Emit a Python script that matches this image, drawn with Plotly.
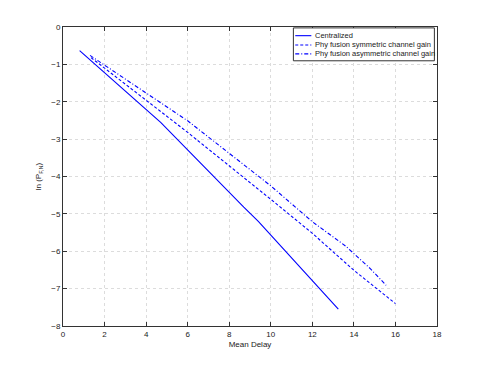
import plotly.graph_objects as go

# Mean delay vs ln(P_F,N)
central_x = [0.8, 4.7, 8.7, 9.4, 13.25]
central_y = [-0.63, -2.55, -4.82, -5.2, -7.55]

sym_x = [1.35, 6.0, 10.0, 12.0, 14.0, 16.0]
sym_y = [-0.82, -2.82, -4.61, -5.52, -6.51, -7.40]

asym_x = [1.3, 6.0, 10.0, 12.0, 13.6, 14.8, 15.55]
asym_y = [-0.76, -2.51, -4.25, -5.21, -5.86, -6.47, -6.91]

names = [
    "Centralized",
    "Phy fusion symmetric channel gain",
    "Phy fusion asymmetric channel gain",
]

blue = "#0000ff"
dashes = ["solid", "3px,2px", "4px,2px,1px,2px"]
series = [(central_x, central_y), (sym_x, sym_y), (asym_x, asym_y)]

fig = go.Figure()
for (xs, ys), name, dash in zip(series, names, dashes):
    fig.add_trace(go.Scatter(x=xs, y=ys, mode="lines", name=name,
                             line=dict(color=blue, width=1.1, dash=dash)))

axis_common = dict(
    showline=True, linecolor="#333", linewidth=1, mirror="ticks",
    ticks="inside", ticklen=4, tickcolor="#333",
    showgrid=True, gridcolor="#dcdcdc", griddash="dot", gridwidth=1,
    zeroline=False, tickfont=dict(size=8, color="#222"),
)

# page body has an 8px margin, so the figure is sized/margined to land the
# plot box where the reference has it
fig.update_layout(
    width=467, height=351,
    margin=dict(l=55, r=38, t=19, b=33),
    paper_bgcolor="white", plot_bgcolor="white",
    font=dict(family="Liberation Sans, Arial, sans-serif", color="#222"),
    xaxis=dict(range=[0, 18], dtick=2, title=dict(text="Mean Delay", font=dict(size=8), standoff=3),
               **axis_common),
    yaxis=dict(range=[-8, 0], dtick=1, title=dict(text="ln (P<sub>F,N</sub>)", font=dict(size=8), standoff=8),
               **axis_common),
    showlegend=False,
)

# MATLAB-style legend box drawn in paper coordinates
fig.add_shape(type="rect", xref="paper", yref="paper", x0=0.616, x1=0.993, y0=0.887, y1=0.997,
              line=dict(color="#333", width=1), fillcolor="white", layer="above")
row_y = [0.971, 0.940, 0.910]
for name, dash, yy in zip(names, dashes, row_y):
    fig.add_shape(type="line", xref="paper", yref="paper", x0=0.621, x1=0.664, y0=yy, y1=yy,
                  line=dict(color=blue, width=1.1, dash=dash), layer="above")
    fig.add_annotation(xref="paper", yref="paper", x=0.668, y=yy, text=name, showarrow=False,
                       xanchor="left", yanchor="middle", font=dict(size=7.5, color="#222"))

fig.write_html("out.html")
